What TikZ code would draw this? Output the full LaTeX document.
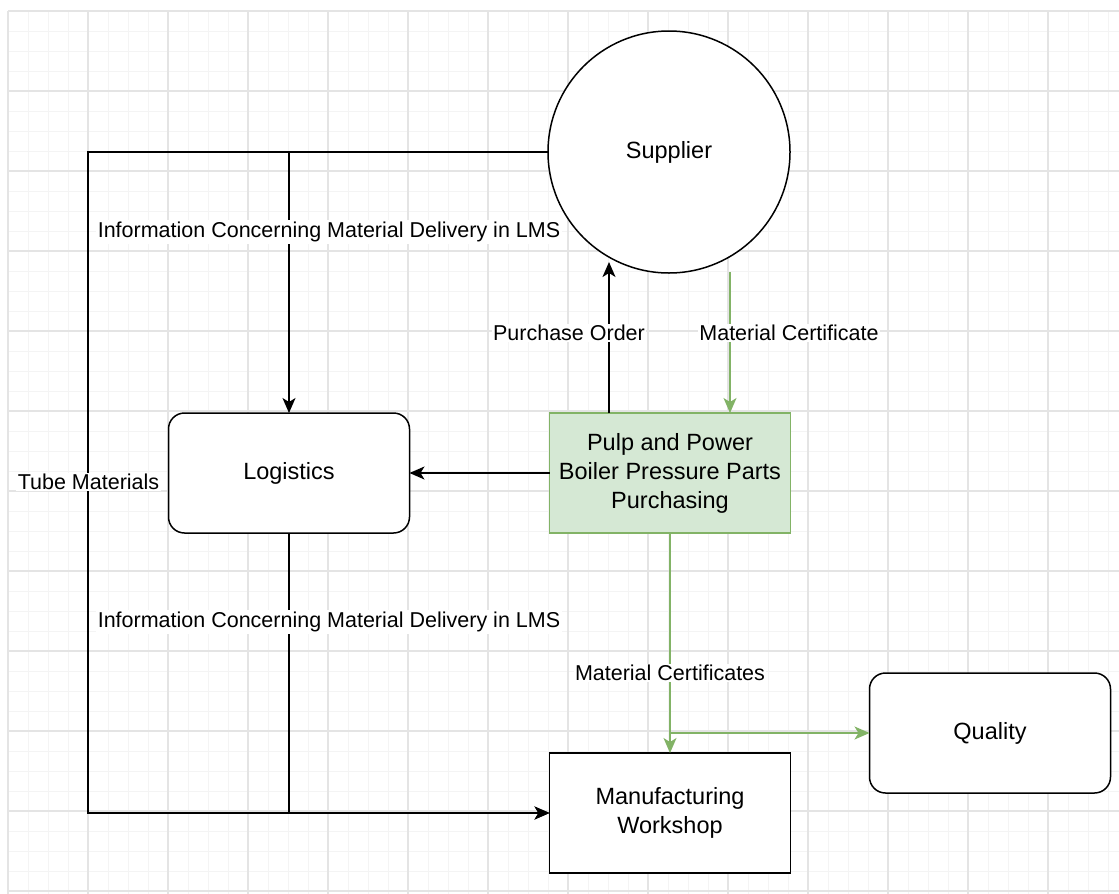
\documentclass[tikz,border=0pt]{standalone}
\usepackage{fontspec}
\setmainfont{Liberation Sans}
\usetikzlibrary{arrows.meta}
\definecolor{gmin}{HTML}{F4F4F4}
\definecolor{gmaj}{HTML}{E4E4E4}
\definecolor{gline}{HTML}{82B366}
\definecolor{gfill}{HTML}{D5E8D4}
\begin{document}
\begin{tikzpicture}[x=1pt,y=-1pt,
  gridminor/.style={draw=gmin,line width=1pt},
  gridmajor/.style={draw=gmaj,line width=1.2pt},
  box/.style={draw=black,line width=1.5pt,minimum width=241pt,minimum height=120pt,inner sep=0pt,outer sep=0pt,align=center,font=\fontsize{23.5}{29}\selectfont},
  rbox/.style={box,rounded corners=16pt},
  conn/.style={line width=1.5pt,-{Stealth[length=15pt,width=13pt,inset=4pt]}},
  lbl/.style={fill=white,inner sep=1.5pt,font=\fontsize{21.5}{26}\selectfont}]
\useasboundingbox[fill=white] (0,0) rectangle (1119,894);
% grid
\foreach \i in {0,...,55} \draw[gridminor] ({8+20*\i},11) -- ({8+20*\i},894);
\foreach \j in {0,...,44} \draw[gridminor] (8,{11+20*\j}) -- (1119,{11+20*\j});
\foreach \i in {0,...,13} \draw[gridmajor] ({8+80*\i},11) -- ({8+80*\i},894);
\foreach \j in {0,...,11} \draw[gridmajor] (8,{11+80*\j}) -- (1119,{11+80*\j});
% nodes
\node[draw=black,circle,minimum size=242pt,inner sep=0pt,outer sep=0pt,line width=1.5pt,fill=white,font=\fontsize{23.5}{29}\selectfont] (sup) at (669,152) {Supplier};
\node[rbox,fill=white] (log) at (289,473) {Logistics};
\node[box,fill=gfill,draw=gline] (pur) at (670,473) {Pulp and Power\\Boiler Pressure Parts\\Purchasing};
\node[box,fill=white] (man) at (670,813) {Manufacturing\\Workshop};
\node[rbox,fill=white] (qual) at (990,733) {Quality};
% helper coordinates
\coordinate (tl) at (88,152);
\coordinate (bl) at (88,813);
\coordinate (poTip) at (609,262);
\coordinate (mcStart) at (730,272);
\coordinate (split) at (670,733);
% connectors
\draw[conn] (sup.west) -| (log.north);
\draw[conn] (sup.west) -- (tl) -- (bl) -- (man.west);
\draw[conn] (log.south) |- (man.west);
\draw[conn] (pur.west) -- (log.east);
\draw[conn] (pur.north -| poTip) -- (poTip);
\draw[conn,draw=gline,color=gline] (mcStart) -- (pur.north -| mcStart);
\draw[conn,draw=gline,color=gline] (pur.south) -- (man.north);
\draw[conn,draw=gline,color=gline] (split) -- (qual.west);
% labels
\node[lbl] (l1) at (329,232) {Information Concerning Material Delivery in LMS};
\node[lbl] (l2) at (88.5,482) {Tube Materials};
\node[lbl] (l3) at (329,622) {Information Concerning Material Delivery in LMS};
\node[lbl] (l4) at (569,333) {Purchase Order};
\node[lbl] (l5) at (789,333) {Material Certificate};
\node[lbl] (l6) at (670,673) {Material Certificates};
\end{tikzpicture}
\end{document}
